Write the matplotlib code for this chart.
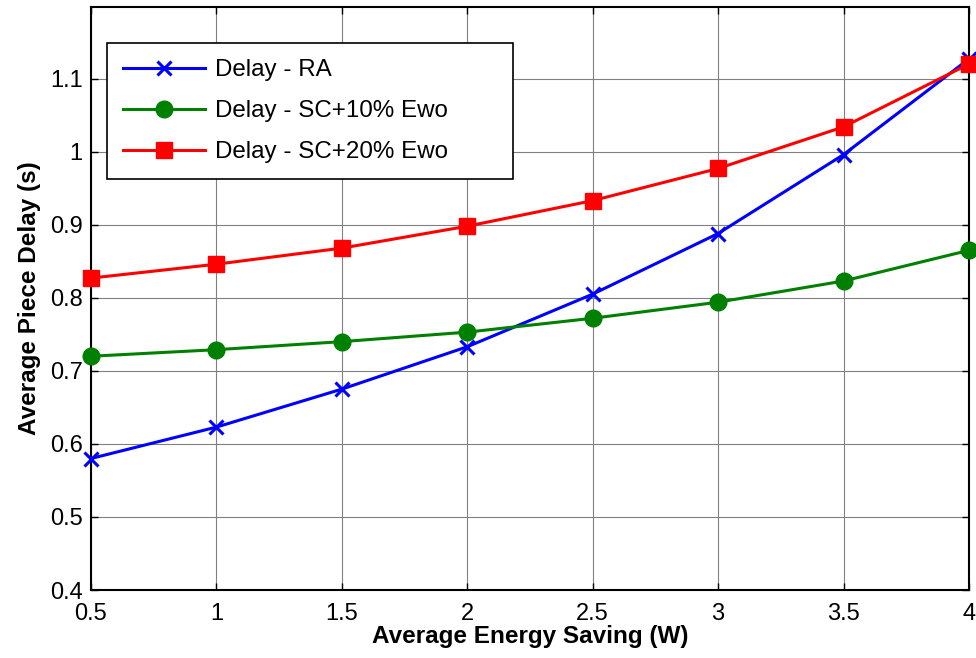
import matplotlib
matplotlib.use("Agg")
import matplotlib.pyplot as plt

plt.rcParams['font.family'] = ['Liberation Sans', 'DejaVu Sans']

energy_saving = [0.5, 1.0, 1.5, 2.0, 2.5, 3.0, 3.5, 4.0]
delay_ra = [0.580, 0.623, 0.675, 0.733, 0.805, 0.888, 0.996, 1.127]
delay_sc10 = [0.720, 0.729, 0.740, 0.753, 0.772, 0.794, 0.823, 0.865]
delay_sc20 = [0.827, 0.846, 0.868, 0.898, 0.933, 0.977, 1.034, 1.120]

x_ticks = [0.5, 1, 1.5, 2, 2.5, 3, 3.5, 4]
x_tick_labels = ['0.5', '1', '1.5', '2', '2.5', '3', '3.5', '4']
y_ticks = [0.4, 0.5, 0.6, 0.7, 0.8, 0.9, 1.0, 1.1]
y_tick_labels = ['0.4', '0.5', '0.6', '0.7', '0.8', '0.9', '1', '1.1']

fig = plt.figure(figsize=(9.76, 6.58), dpi=100)
ax = fig.add_axes([0.0932, 0.1033, 0.8996, 0.886])

ax.plot(energy_saving, delay_ra, color='#0000ff', lw=2.2, marker='x',
        ms=10.5, mew=2.2, label='Delay - RA', clip_on=False, zorder=3)
ax.plot(energy_saving, delay_sc10, color='#008000', lw=2.2, marker='o',
        ms=12, label='Delay - SC+10% Ewo', clip_on=False, zorder=3)
ax.plot(energy_saving, delay_sc20, color='#ff0000', lw=2.2, marker='s',
        ms=12, label='Delay - SC+20% Ewo', clip_on=False, zorder=3)

ax.set_xlim(0.5, 4)
ax.set_ylim(0.4, 1.198)
ax.set_xticks(x_ticks)
ax.set_xticklabels(x_tick_labels)
ax.set_yticks(y_ticks)
ax.set_yticklabels(y_tick_labels)

ax.grid(True, color='#808080', lw=0.8, ls='-')
ax.set_axisbelow(True)
ax.tick_params(direction='in', top=True, right=True, length=5, width=1,
               labelsize=17)
ax.tick_params(axis='x', pad=9)
ax.tick_params(axis='y', pad=6)
for s in ax.spines.values():
    s.set_linewidth(1.5)

ax.set_xlabel('Average Energy Saving (W)', fontsize=17.5, fontweight='bold', labelpad=0)
ax.set_ylabel('Average Piece Delay (s)', fontsize=17.5, fontweight='bold', labelpad=6)

leg = ax.legend(loc='upper left', bbox_to_anchor=(0.0182, 0.938, 0.463, 0.0),
                mode='expand', borderaxespad=0, fontsize=17.4,
                frameon=True, fancybox=False, edgecolor='black', framealpha=1,
                handlelength=3.4, handletextpad=0.4, borderpad=0.66,
                labelspacing=0.79)
leg.get_frame().set_linewidth(1.2)

fig.savefig('out.png', dpi=100)
